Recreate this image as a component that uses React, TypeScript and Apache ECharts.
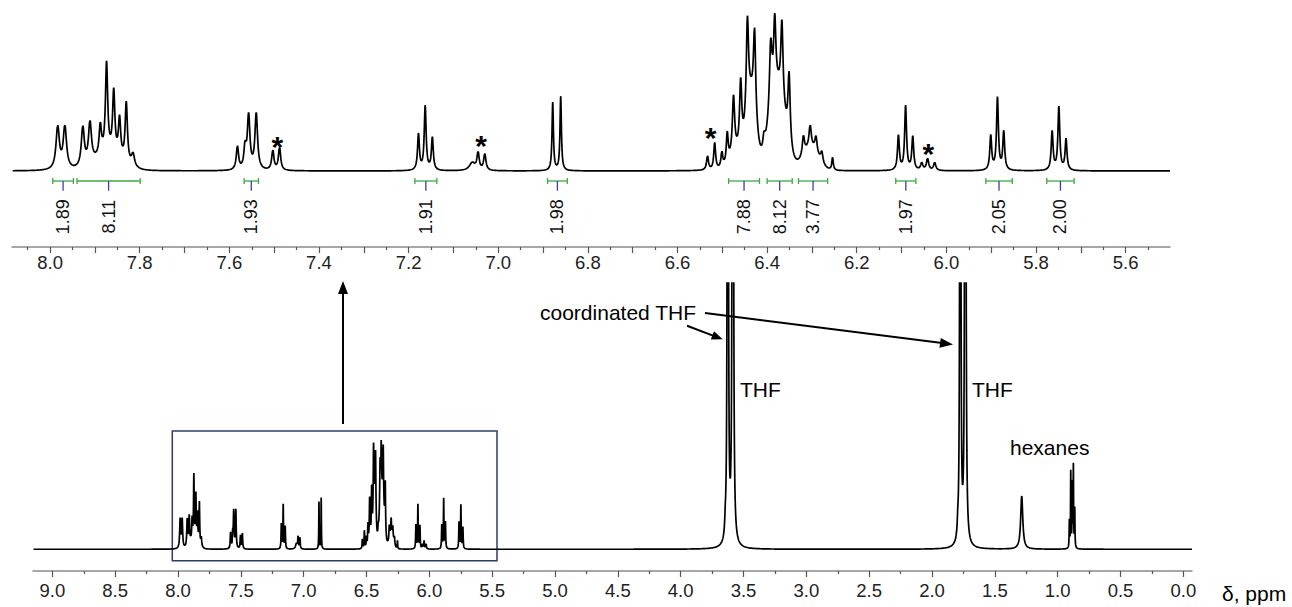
import { useEffect, useRef } from 'react';
import * as echarts from 'echarts';

const FONT = "'Liberation Sans', Arial, sans-serif";

// Peaks: [ppm, height, FWHM (ppm), Lorentzian fraction]
const aromaticPeaks: number[][] = [
  [7.983, 27, 0.009, 1],
  [7.967, 27, 0.009, 1],
  [7.927, 25, 0.008, 1],
  [7.911, 26, 0.008, 1],
  [7.888, 18.7, 0.006, 1],
  [7.874, 57, 0.006, 1],
  [7.858, 39.7, 0.006, 1],
  [7.845, 24.3, 0.006, 1],
  [7.83, 38, 0.006, 1],
  [7.815, 8, 0.008, 1],
  [7.87, 10, 0.07, 0],
  [7.582, 15, 0.006, 1],
  [7.565, 13, 0.006, 1],
  [7.557, 34, 0.007, 1],
  [7.54, 35.5, 0.007, 1],
  [7.503, 12.5, 0.006, 1],
  [7.488, 14.5, 0.006, 1],
  [7.178, 22.9, 0.005, 1],
  [7.163, 40.8, 0.005, 1],
  [7.147, 20.7, 0.005, 1],
  [7.058, 5, 0.015, 1],
  [7.045, 11, 0.006, 1],
  [7.03, 10.5, 0.006, 1],
  [6.8784, 43.5, 0.0037, 1],
  [6.8606, 47.3, 0.0037, 1],
];

const olefinicPeaks: number[][] = [
  [6.533, 9, 0.005, 1],
  [6.517, 17, 0.005, 1],
  [6.501, 10, 0.005, 1],
  [6.489, 19, 0.005, 1],
  [6.475, 36, 0.006, 1],
  [6.459, 44, 0.006, 1],
  [6.444, 60, 0.006, 1],
  [6.428, 54, 0.006, 1],
  [6.407, 9, 0.006, 1],
  [6.392, 44, 0.007, 1],
  [6.383, 45, 0.006, 1],
  [6.367, 50, 0.006, 1],
  [6.351, 45, 0.006, 1],
  [6.319, 12, 0.006, 1],
  [6.304, 14, 0.006, 1],
  [6.291, 10, 0.006, 1],
  [6.278, 7, 0.006, 1],
  [6.254, 8, 0.004, 1],
  [6.47, 10, 0.03, 0],
  [6.436, 44, 0.025, 0],
  [6.377, 50, 0.04, 0],
  [6.303, 14, 0.04, 0],
  [6.107, 21.9, 0.005, 1],
  [6.091, 40.8, 0.005, 1],
  [6.075, 21.2, 0.005, 1],
  [6.055, 4.5, 0.006, 1],
  [6.042, 7.5, 0.006, 1],
  [6.026, 5, 0.006, 1],
  [5.901, 21.8, 0.005, 1],
  [5.886, 46, 0.005, 1],
  [5.872, 24.3, 0.005, 1],
  [5.764, 24.6, 0.005, 1],
  [5.749, 40.2, 0.005, 1],
  [5.733, 19.7, 0.005, 1],
];

const solventPeaks: number[][] = [
  [3.645, 10, 0.01, 1],
  [3.625, 2800, 0.004, 1],
  [3.585, 3800, 0.004, 1],
  [1.795, 10, 0.01, 1],
  [1.775, 2500, 0.004, 1],
  [1.735, 3500, 0.004, 1],
  [1.286, 49, 0.02, 1],
  [0.907, 25, 0.004, 1],
  [0.896, 70, 0.004, 1],
  [0.884, 58, 0.004, 1],
  [0.875, 75, 0.004, 1],
  [0.864, 36, 0.004, 1],
];

// Integrals (inset)
const integralStart = [7.994, 7.94, 7.567, 7.186, 6.89, 6.486, 6.4, 6.33, 6.113, 5.912, 5.776];
const integralEnd = [7.948, 7.799, 7.535, 7.137, 6.846, 6.417, 6.344, 6.265, 6.068, 5.853, 5.715];
const integralValues = ['1.89', '8.11', '1.93', '1.91', '1.98', '7.88', '8.12', '3.77', '1.97', '2.05', '2.00'];

// Impurity marks (*)
const starPpm = [7.493, 7.038, 6.526, 6.04];
const starHeight = [16.6, 17.6, 22.9, 12.3];

// Axis ticks / labels
const topLabelValues = [5.6, 5.8, 6.0, 6.2, 6.4, 6.6, 6.8, 7.0, 7.2, 7.4, 7.6, 7.8, 8.0];
const topMajorTicks = [5.6, 5.7, 5.8, 5.9, 6.0, 6.1, 6.2, 6.3, 6.4, 6.5, 6.6, 6.7, 6.8, 6.9, 7.0, 7.1, 7.2, 7.3, 7.4, 7.5, 7.6, 7.7, 7.8, 7.9, 8.0];
const topMinorTicks = [5.55, 5.65, 5.75, 5.85, 5.95, 6.05, 6.15, 6.25, 6.35, 6.45, 6.55, 6.65, 6.75, 6.85, 6.95, 7.05, 7.15, 7.25, 7.35, 7.45, 7.55, 7.65, 7.75, 7.85, 7.95, 8.05];
const bottomLabelValues = [0.0, 0.5, 1.0, 1.5, 2.0, 2.5, 3.0, 3.5, 4.0, 4.5, 5.0, 5.5, 6.0, 6.5, 7.0, 7.5, 8.0, 8.5, 9.0];
const bottomMinorTicks = [0.25, 0.75, 1.25, 1.75, 2.25, 2.75, 3.25, 3.75, 4.25, 4.75, 5.25, 5.75, 6.25, 6.75, 7.25, 7.75, 8.25, 8.75];

const allPeaks = [...aromaticPeaks, ...olefinicPeaks, ...solventPeaks];

function intensity(x: number): number {
  let s = 0;
  for (const [p, h, w, eta] of allPeaks) {
    const d = x - p;
    const hw2 = (w / 2) * (w / 2);
    const lor = hw2 / (d * d + hw2);
    const gau = Math.exp((-4 * Math.LN2 * d * d) / (w * w));
    s += h * (eta * lor + (1 - eta) * gau);
  }
  return s;
}

function spectrum(from: number, to: number, step: number): number[][] {
  const out: number[][] = [];
  const n = Math.round((to - from) / step);
  for (let i = 0; i <= n; i++) {
    const x = from + i * step;
    out.push([x, intensity(x)]);
  }
  return out;
}

function arrow(x1: number, y1: number, x2: number, y2: number, len = 13, half = 5) {
  const dx = x2 - x1;
  const dy = y2 - y1;
  const L = Math.sqrt(dx * dx + dy * dy);
  const ux = dx / L;
  const uy = dy / L;
  const bx = x2 - ux * len;
  const by = y2 - uy * len;
  const nx = -uy * half;
  const ny = ux * half;
  return [
    { type: 'line', shape: { x1, y1, x2: bx + ux * 2, y2: by + uy * 2 }, style: { stroke: '#000', lineWidth: 2 } },
    { type: 'polygon', shape: { points: [[x2, y2], [bx + nx, by + ny], [bx - nx, by - ny]] }, style: { fill: '#000' } },
  ];
}

const TOP_MIN = 5.501;
const TOP_MAX = 8.085;
const BOT_MIN = -0.069;
const BOT_MAX = 9.154;

export default function App() {
  const ref = useRef<HTMLDivElement>(null);
  useEffect(() => {
    if (!ref.current) return;
    const chart = echarts.init(ref.current, undefined, { renderer: 'svg' });
    const topData = spectrum(TOP_MIN, TOP_MAX, 0.0005);
    const botData = spectrum(BOT_MIN, BOT_MAX, 0.0005);

    const axisLineStyle = { color: '#8a8a8a', width: 1.5 };
    const tickStyle = { color: '#555', width: 1.2 };

    const option: any = {
      animation: false,
      grid: [
        { left: 12, right: 122, top: 10, bottom: 360, outerBoundsMode: 'none' },
        { left: 33, right: 100, top: 283, bottom: 36, outerBoundsMode: 'none' },
      ],
      xAxis: [
        {
          type: 'value', gridIndex: 0, position: 'bottom', min: TOP_MIN, max: TOP_MAX, inverse: true,
          axisLine: { onZero: false, lineStyle: axisLineStyle },
          axisTick: { customValues: topMajorTicks, length: 6, lineStyle: tickStyle },
          axisLabel: { customValues: topLabelValues, formatter: (v: number) => v.toFixed(1), fontSize: 18.5, fontFamily: FONT, color: '#222', margin: 6 },
          splitLine: { show: false },
        },
        {
          type: 'value', gridIndex: 0, position: 'bottom', min: TOP_MIN, max: TOP_MAX, inverse: true,
          axisLine: { show: false, onZero: false },
          axisTick: { customValues: topMinorTicks, length: 3, lineStyle: tickStyle },
          axisLabel: { show: false },
          splitLine: { show: false },
        },
        {
          type: 'value', gridIndex: 1, position: 'bottom', min: BOT_MIN, max: BOT_MAX, inverse: true,
          axisLine: { onZero: false, lineStyle: axisLineStyle },
          axisTick: { customValues: bottomLabelValues, length: 6, lineStyle: tickStyle },
          axisLabel: { customValues: bottomLabelValues, formatter: (v: number) => v.toFixed(1), fontSize: 18.5, fontFamily: FONT, color: '#222', margin: 10 },
          splitLine: { show: false },
        },
        {
          type: 'value', gridIndex: 1, position: 'bottom', min: BOT_MIN, max: BOT_MAX, inverse: true,
          axisLine: { show: false, onZero: false },
          axisTick: { customValues: bottomMinorTicks, length: 3, lineStyle: tickStyle },
          axisLabel: { show: false },
          splitLine: { show: false },
        },
      ],
      yAxis: [
        { type: 'value', gridIndex: 0, min: -48.4, max: 102.55, show: false, splitLine: { show: false } },
        { type: 'value', gridIndex: 1, min: -20, max: 245.2, show: false, splitLine: { show: false } },
      ],
      series: [
        {
          type: 'line', xAxisIndex: 0, yAxisIndex: 0, data: topData, showSymbol: false, symbol: 'none',
          lineStyle: { color: '#000', width: 1.7 }, clip: true, silent: true,
        },
        {
          type: 'line', xAxisIndex: 2, yAxisIndex: 1, data: botData, showSymbol: false, symbol: 'none',
          lineStyle: { color: '#000', width: 1.7 }, clip: true, silent: true,
        },
        {
          type: 'custom', xAxisIndex: 0, yAxisIndex: 0,
          encode: { x: [0, 1], y: 2 },
          data: integralStart.map((s, i) => [s, integralEnd[i], 0]),
          renderItem: (params: any, api: any) => {
            const s = api.coord([api.value(0), 0]);
            const e = api.coord([api.value(1), 0]);
            const yb = s[1] + 10;
            const xm = (s[0] + e[0]) / 2;
            const green = { stroke: '#3fa845', lineWidth: 1.3 };
            return {
              type: 'group',
              children: [
                { type: 'line', shape: { x1: s[0], y1: yb, x2: e[0], y2: yb }, style: green },
                { type: 'line', shape: { x1: s[0], y1: yb - 3, x2: s[0], y2: yb + 3 }, style: green },
                { type: 'line', shape: { x1: e[0], y1: yb - 3, x2: e[0], y2: yb + 3 }, style: green },
                { type: 'line', shape: { x1: xm, y1: yb, x2: xm, y2: yb + 9.7 }, style: { stroke: '#3b3fa8', lineWidth: 1.3 } },
                {
                  type: 'text', x: xm, y: s[1] + 45.7, rotation: Math.PI / 2,
                  style: { text: integralValues[params.dataIndex], align: 'center', verticalAlign: 'middle', fontSize: 18, fontFamily: FONT, fill: '#111' },
                },
              ],
            };
          },
          silent: true,
        },
        {
          type: 'custom', xAxisIndex: 0, yAxisIndex: 0,
          data: starPpm.map((p, i) => [p, starHeight[i]]),
          renderItem: (params: any, api: any) => {
            const c = api.coord([api.value(0), api.value(1)]);
            return {
              type: 'text', x: c[0], y: c[1] + 2,
              style: { text: '*', align: 'center', verticalAlign: 'middle', fontSize: 30, fontWeight: 'bold', fontFamily: FONT, fill: '#000' },
            };
          },
          silent: true,
        },
      ],
      graphic: [
        { type: 'rect', shape: { x: 172.3, y: 431, width: 324.7, height: 129.7 }, style: { fill: 'none', stroke: '#2c3c6c', lineWidth: 1.5 }, silent: true },
        ...arrow(343, 424, 343, 281),
        ...arrow(705, 313, 953, 344.5),
        ...arrow(687, 325.7, 722.7, 339.3, 11, 4.5),
        { type: 'text', x: 540, y: 312, style: { text: 'coordinated THF', fontSize: 21, fontFamily: FONT, fill: '#000', align: 'left', verticalAlign: 'middle' } },
        { type: 'text', x: 740, y: 389, style: { text: 'THF', fontSize: 21, fontFamily: FONT, fill: '#000', align: 'left', verticalAlign: 'middle' } },
        { type: 'text', x: 972, y: 389, style: { text: 'THF', fontSize: 21, fontFamily: FONT, fill: '#000', align: 'left', verticalAlign: 'middle' } },
        { type: 'text', x: 1010, y: 447, style: { text: 'hexanes', fontSize: 21, fontFamily: FONT, fill: '#000', align: 'left', verticalAlign: 'middle' } },
        { type: 'text', x: 1222, y: 593, style: { text: 'δ, ppm', fontSize: 21, fontFamily: FONT, fill: '#000', align: 'left', verticalAlign: 'middle' } },
      ],
    };
    chart.setOption(option);
    return () => chart.dispose();
  }, []);
  return <div ref={ref} style={{ position: 'fixed', left: 0, top: 0, width: 1292, height: 607, background: '#fff' }} />;
}
